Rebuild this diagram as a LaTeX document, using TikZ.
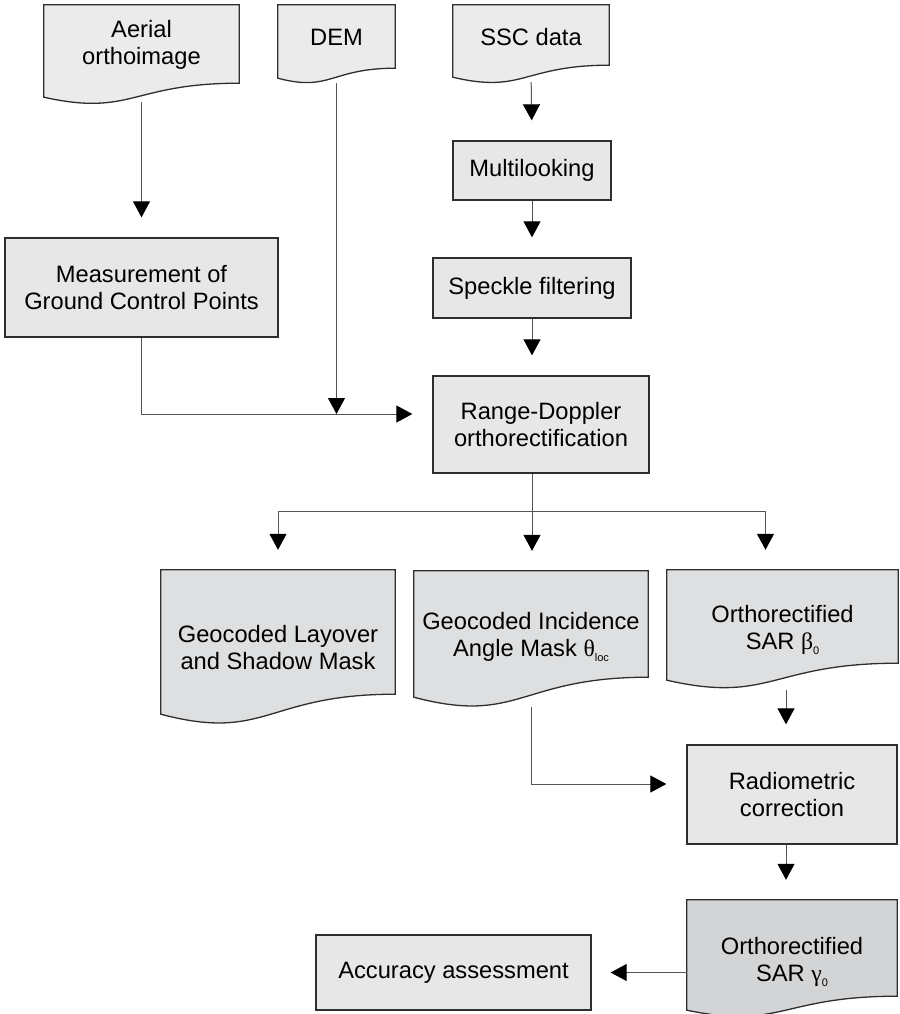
\documentclass[tikz,border=0pt]{standalone}
\usepackage{fontspec}
\setmainfont{Liberation Sans}
\newfontfamily\greekfont{Liberation Serif}
\usetikzlibrary{arrows.meta,calc,backgrounds}

\definecolor{edgegray}{HTML}{2E2E2E}
\definecolor{linegray}{HTML}{555555}
\definecolor{infill}{HTML}{EBEBEB}
\definecolor{procfill}{HTML}{E7E7E7}
\definecolor{outfill}{HTML}{DEDFE0}
\definecolor{gammafill}{HTML}{D3D4D5}

\tikzset{
  every node/.style={font=\fontsize{23.7}{27}\selectfont, align=center, inner sep=0pt},
  procbox/.style={draw=edgegray, fill=procfill, line width=1.3pt},
  docedge/.style={draw=edgegray, line width=1.3pt},
  line/.style={draw=linegray, line width=1pt},
  arrow/.style={line, -{Triangle[length=16pt,width=17pt,color=black]}, shorten >=20pt},
}

% wavy lower edge of a document node: node, fill, right drop, left drop
\newcommand{\docshape}[4]{%
  \path[docedge, fill=#2] (#1.north west) -- (#1.north east)
    -- ($(#1.south east)+(0,#3)$)
    .. controls ($(#1.south west)!0.45!(#1.south east)+(0,#3)$)
    and ($(#1.south west)!0.45!(#1.south east)+(0,{(#3)+2.4*((#4)-(#3))})$)
    .. ($(#1.south west)+(0,#4)$) -- cycle;}
\newcommand{\lowsub}[1]{\raisebox{-0.22em}{\fontsize{11}{11}\selectfont #1}}

\begin{document}
\begin{tikzpicture}[x=1pt,y=-1pt]
\useasboundingbox (0,0) rectangle (899,1014);

% inputs
\node[minimum width=195pt, minimum height=80pt] (aerial) at (141.5,45) {Aerial\\orthoimage};
\node[minimum width=117pt, minimum height=65pt] (dem) at (336.5,37.5) {DEM};
\node[minimum width=156pt, minimum height=64pt] (ssc) at (531,37) {SSC data};

% processing
\node[procbox, minimum width=158pt, minimum height=59pt] (multi) at (532,170.5) {Multilooking};
\node[procbox, minimum width=273pt, minimum height=99pt] (gcp) at (141.5,287.5) {Measurement of\\Ground Control Points};
\node[procbox, minimum width=198pt, minimum height=60pt] (speckle) at (532,288) {Speckle filtering};
\node[procbox, minimum width=216pt, minimum height=97pt] (rd) at (541,424.5) {Range-Doppler\\orthorectification};

% outputs
\node[minimum width=234pt, minimum height=156pt] (layover) at (278,648) {Geocoded Layover\\and Shadow Mask};
\node[minimum width=234pt, minimum height=132pt] (incid) at (531,637) {Geocoded Incidence\\Angle Mask {\greekfont θ}\lowsub{loc}};
\node[minimum width=231pt, minimum height=120pt] (beta) at (782.5,630) {Orthorectified\\SAR {\greekfont β}\lowsub{0}};
\node[procbox, minimum width=210pt, minimum height=99pt] (radio) at (792,794.5) {Radiometric\\correction};
\node[minimum width=210pt, minimum height=124pt] (gamma) at (792,962) {Orthorectified\\SAR {\greekfont γ}\lowsub{0}};
\node[procbox, minimum width=275pt, minimum height=75pt] (acc) at (453.5,972.5) {Accuracy assessment};

\begin{pgfonlayer}{background}
\docshape{aerial}{infill}{-2}{12}
\docshape{dem}{infill}{-2}{8}
\docshape{ssc}{infill}{-4}{8}
\docshape{layover}{outfill}{-32}{-12}
\docshape{incid}{outfill}{-26}{-6}
\docshape{beta}{outfill}{-27}{-10}
\docshape{gamma}{gammafill}{-28}{-14}
\end{pgfonlayer}

\coordinate (merge) at (336.5,414);
\coordinate (split) at (532,511);

\draw[arrow, shorten <=17pt] (aerial.south) -- (gcp.north);
\draw[arrow, shorten >=0pt, shorten <=13pt] (dem.south) -- (merge);
\draw[arrow] (gcp.south) |- (merge -| rd.west);
\draw[arrow, shorten <=13pt] (ssc.south) -- (multi.north);
\draw[arrow] (multi.south) -- (speckle.north);
\draw[arrow] (speckle.south) -- (speckle.south |- rd.north);
\draw[line] (rd.south -| split) -- (split);
\draw[arrow] (split) -| (layover.north);
\draw[arrow] (split) -- (split |- incid.north);
\draw[arrow] (split) -| ([xshift=-17pt]beta.north);
\draw[arrow, shorten <=4pt] (incid.south) |- ($(radio.west)+(0,-10.5)$);
\draw[arrow] ([xshift=-6pt]radio.north |- beta.south) -- ([xshift=-6pt]radio.north);
\draw[arrow] ([xshift=-6pt]radio.south) -- ([xshift=-6pt]gamma.north);
\draw[arrow, shorten >=19pt] (gamma.west |- acc.east) -- (acc.east);
\end{tikzpicture}
\end{document}
